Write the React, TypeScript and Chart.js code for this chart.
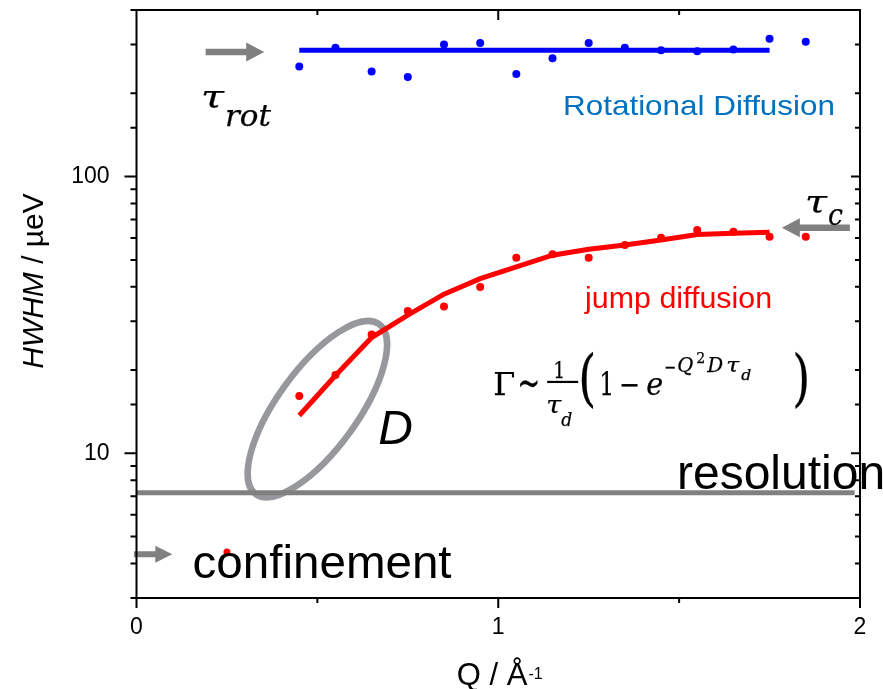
import React, { useEffect, useRef } from 'react';
import { Chart, registerables } from 'chart.js';

Chart.register(...registerables);

// ---------------- data ----------------
const qValues = [0.45, 0.55, 0.65, 0.75, 0.85, 0.95, 1.05, 1.15, 1.25, 1.35, 1.45, 1.55, 1.65, 1.75, 1.85];
const rotationalHWHM = [250, 292, 240, 229, 300, 304, 235, 268, 304, 292, 286, 284, 288, 315, 307];
const jumpHWHM = [16.1, 19.2, 26.9, 32.7, 33.9, 39.9, 50.9, 52.4, 50.9, 56.6, 60.1, 64.1, 63.2, 60.6, 60.6];

const rotFitQ = [0.45, 1.75];
const rotFitHWHM = [286, 286];

const jumpFitQ = [0.45, 0.55, 0.65, 0.75, 0.85, 0.95, 1.05, 1.15, 1.25, 1.35, 1.45, 1.55, 1.65, 1.75];
const jumpFitHWHM = [13.7, 19.1, 26.2, 31.6, 37.6, 42.8, 47.2, 52.0, 54.6, 56.6, 59.0, 61.8, 62.4, 62.9];

const confinementQ = [0.25];
const confinementHWHM = [4.4];

const resolutionQ = [0, 1.985];
const resolutionHWHM = [7.2, 7.2];

const xTickLabels = ['0', '1', '2'];
const yTickLabels = ['10', '100'];

// annotation anchors (data units: Q, HWHM)
const ROT_ARROW = { q0: 0.191, q1: 0.353, v: 282 };
const TAU_ROT = { q: 0.178, v: 177 };
const ROT_LABEL = { q: 1.179, v: 167 };
const TAUC_ARROW = { q0: 1.972, q1: 1.784, v: 65.3 };
const TAU_C = { q: 1.848, v: 74 };
const JUMP_LABEL = { q: 1.24, v: 33.4 };
const FORMULA = { q: 0.986, v: 16.2 };
const D_LABEL = { q: 0.668, v: 10.84 };
const ELLIPSE = { q: 0.5, v: 14.45 };
const RES_LABEL = { q: 1.494, v: 7.45 };
const CONF_LABEL = { q: 0.155, v: 3.55 };
const CONF_ARROW = { q0: -0.007, q1: 0.099, v: 4.32 };

const SANS = '"Liberation Sans", Arial, sans-serif';
const MATH = '"DejaVu Serif", "Liberation Serif", serif';
const GRAY = '#808080';

function pts(xs: number[], ys: number[]) {
  return xs.map((x, i) => ({ x, y: ys[i] }));
}

function drawText(
  ctx: CanvasRenderingContext2D,
  text: string,
  x: number,
  y: number,
  font: string,
  color: string,
  width?: number,
  stroke?: number
) {
  ctx.save();
  ctx.font = font;
  ctx.fillStyle = color;
  ctx.strokeStyle = color;
  ctx.textAlign = 'left';
  ctx.textBaseline = 'alphabetic';
  ctx.translate(x, y);
  if (width) {
    const w = ctx.measureText(text).width;
    ctx.scale(width / w, 1);
  }
  ctx.fillText(text, 0, 0);
  if (stroke) {
    ctx.lineWidth = stroke;
    ctx.strokeText(text, 0, 0);
  }
  ctx.restore();
}

function drawArrow(ctx: CanvasRenderingContext2D, x0: number, x1: number, y: number, shaftW: number, headL: number, headHW: number) {
  const dir = Math.sign(x1 - x0);
  const xb = x1 - dir * headL;
  ctx.save();
  ctx.fillStyle = GRAY;
  ctx.beginPath();
  ctx.moveTo(x0, y - shaftW / 2);
  ctx.lineTo(xb, y - shaftW / 2);
  ctx.lineTo(xb, y - headHW);
  ctx.lineTo(x1, y);
  ctx.lineTo(xb, y + headHW);
  ctx.lineTo(xb, y + shaftW / 2);
  ctx.lineTo(x0, y + shaftW / 2);
  ctx.closePath();
  ctx.fill();
  ctx.restore();
}

const overlayPlugin = {
  id: 'overlay',
  beforeDatasetsDraw(chart: any) {
    const ctx = chart.ctx as CanvasRenderingContext2D;
    const xs = chart.scales.x, ys = chart.scales.y;
    const cx = xs.getPixelForValue(ELLIPSE.q), cy = ys.getPixelForValue(ELLIPSE.v);
    ctx.save();
    ctx.beginPath();
    ctx.ellipse(cx, cy, 105, 40, (-54 * Math.PI) / 180, 0, Math.PI * 2);
    ctx.lineWidth = 6.5;
    ctx.strokeStyle = '#97989c';
    ctx.stroke();
    ctx.restore();
  },
  afterDatasetsDraw(chart: any) {
    const ctx = chart.ctx as CanvasRenderingContext2D;
    const xs = chart.scales.x, ys = chart.scales.y;
    const X = (q: number) => xs.getPixelForValue(q);
    const Y = (v: number) => ys.getPixelForValue(v);

    // arrows
    drawArrow(ctx, X(ROT_ARROW.q0), X(ROT_ARROW.q1), Y(ROT_ARROW.v), 6.5, 18, 9.5);
    drawArrow(ctx, X(TAUC_ARROW.q0), X(TAUC_ARROW.q1), Y(TAUC_ARROW.v), 6.5, 18, 9.5);
    drawArrow(ctx, X(CONF_ARROW.q0), X(CONF_ARROW.q1), Y(CONF_ARROW.v), 6, 17, 8.5);

    const S = 0.25; // slight stroke to mimic the math font weight
    // tau_rot
    {
      const x = X(TAU_ROT.q), y = Y(TAU_ROT.v);
      drawText(ctx, 'τ', x, y, `italic 32px ${MATH}`, '#000', 23, S);
      drawText(ctx, 'rot', x + 24, y + 18.5, `italic 29px ${MATH}`, '#000', 46, S);
    }
    // tau_c
    {
      const x = X(TAU_C.q), y = Y(TAU_C.v);
      drawText(ctx, 'τ', x, y, `italic 32px ${MATH}`, '#000', 22, S);
      drawText(ctx, 'c', x + 23, y + 12, `italic 29px ${MATH}`, '#000', 15, S);
    }
    // labels
    drawText(ctx, 'Rotational Diffusion', X(ROT_LABEL.q), Y(ROT_LABEL.v), `28px ${SANS}`, '#0070C0', 272);
    drawText(ctx, 'jump diffusion', X(JUMP_LABEL.q), Y(JUMP_LABEL.v), `29px ${SANS}`, '#ff0000', 187);
    drawText(ctx, 'D', X(D_LABEL.q), Y(D_LABEL.v), `italic 48px ${SANS}`, '#000');
    drawText(ctx, 'resolution', X(RES_LABEL.q), Y(RES_LABEL.v), `48px ${SANS}`, '#000');
    drawText(ctx, 'confinement', X(CONF_LABEL.q), Y(CONF_LABEL.v), `47px ${SANS}`, '#000', 259);

    // formula
    {
      const x0 = X(FORMULA.q), y0 = Y(FORMULA.v);
      const parts: [string, number, number, string, number?][] = [
        ['Γ', 0, 0, `32px ${MATH}`, 22],
        ['~', 24, 2, `42px ${MATH}`, 23],
        ['1', 60, -17, `22px ${MATH}`, 12],
        ['τ', 53, 18, `italic 24px ${MATH}`, 15],
        ['d', 68, 31, `italic 18px ${MATH}`, 11],
        ['(', 85, 4, `62px ${MATH}`, 18],
        ['1', 106, 0, `31px ${MATH}`, 15],
        ['−', 126, 0, `31px ${MATH}`, 21],
        ['e', 153, 0, `italic 31px ${MATH}`, 17],
        ['−', 171, -21, `20px ${MATH}`, 12],
        ['Q', 184, -23, `italic 20px ${MATH}`, 16],
        ['2', 203, -32, `14px ${MATH}`, 9],
        ['D', 214, -23, `italic 20px ${MATH}`, 16],
        ['τ', 233, -23, `italic 20px ${MATH}`, 13],
        ['d', 248, -15, `italic 15px ${MATH}`, 10],
        [')', 299, 4, `62px ${MATH}`, 18],
      ];
      for (const [t, dx, dy, f, w] of parts) drawText(ctx, t, x0 + dx, y0 + dy, f, '#000', w, S);
      ctx.save();
      ctx.fillStyle = '#000';
      ctx.fillRect(x0 + 54, y0 - 14.5, 31, 2.2);
      ctx.restore();
    }
  },
  afterDraw(chart: any) {
    const ctx = chart.ctx as CanvasRenderingContext2D;
    const a = chart.chartArea;
    const xs = chart.scales.x, ys = chart.scales.y;
    ctx.save();
    ctx.strokeStyle = '#000';
    ctx.lineWidth = 2;
    ctx.strokeRect(a.left, a.top, a.right - a.left, a.bottom - a.top);
    ctx.beginPath();
    // x ticks
    for (const t of xs.ticks) {
      const px = xs.getPixelForValue(t.value);
      const major = Number.isInteger(t.value);
      ctx.moveTo(px, a.bottom);
      ctx.lineTo(px, a.bottom + (major ? 10 : 5));
      if (t.value > 0 && t.value < 2) {
        ctx.moveTo(px, a.top);
        ctx.lineTo(px, a.top + (major ? 10 : 5));
      }
    }
    // y ticks
    for (const t of ys.ticks) {
      const py = ys.getPixelForValue(t.value);
      const lg = Math.log10(t.value);
      const major = Math.abs(lg - Math.round(lg)) < 1e-9;
      ctx.moveTo(a.left, py);
      ctx.lineTo(a.left - (major ? 12 : 6), py);
      ctx.moveTo(a.right, py);
      ctx.lineTo(a.right - (major ? 9 : 5), py);
    }
    ctx.stroke();
    ctx.restore();

    // axis titles
    ctx.save();
    ctx.translate(43, 281);
    ctx.rotate(-Math.PI / 2);
    ctx.fillStyle = '#000';
    ctx.textBaseline = 'alphabetic';
    ctx.font = `italic 30px ${SANS}`;
    const w1 = ctx.measureText('HWHM').width;
    ctx.font = `30px ${SANS}`;
    const w2 = ctx.measureText(' / µeV').width;
    const sx = -(w1 + w2) / 2;
    ctx.font = `italic 30px ${SANS}`;
    ctx.fillText('HWHM', sx, 0);
    ctx.font = `30px ${SANS}`;
    ctx.fillText(' / µeV', sx + w1, 0);
    ctx.restore();

    ctx.save();
    ctx.fillStyle = '#000';
    ctx.textBaseline = 'alphabetic';
    ctx.font = `31px ${SANS}`;
    const m1 = ctx.measureText('Q / Å').width;
    ctx.font = `16px ${SANS}`;
    const m2 = ctx.measureText('-1').width;
    const cxm = (a.left + a.right) / 2 + 1;
    const start = cxm - (m1 + m2) / 2;
    ctx.font = `31px ${SANS}`;
    ctx.fillText('Q / Å', start, 685);
    ctx.font = `16px ${SANS}`;
    ctx.fillText('-1', start + m1 + 1, 679);
    ctx.restore();
  },
};

export default function App() {
  const ref = useRef<HTMLCanvasElement | null>(null);
  useEffect(() => {
    const canvas = ref.current;
    if (!canvas) return;
    const chart = new Chart(canvas, {
      type: 'scatter',
      data: {
        datasets: [
          {
            label: 'Rotational fit',
            data: pts(rotFitQ, rotFitHWHM),
            showLine: true,
            borderColor: '#0000ff',
            borderWidth: 5,
            pointRadius: 0,
            order: 1,
          },
          {
            label: 'Jump fit',
            data: pts(jumpFitQ, jumpFitHWHM),
            showLine: true,
            borderColor: '#ff0000',
            borderWidth: 5,
            pointRadius: 0,
            order: 1,
          },
          {
            label: 'Resolution',
            data: pts(resolutionQ, resolutionHWHM),
            showLine: true,
            borderColor: '#808080',
            borderWidth: 5,
            pointRadius: 0,
            order: 1,
          },
          {
            label: 'Rotational Diffusion',
            data: pts(qValues, rotationalHWHM),
            backgroundColor: '#0000ff',
            borderWidth: 0,
            pointRadius: 4,
            order: 2,
          },
          {
            label: 'jump diffusion',
            data: pts(qValues, jumpHWHM),
            backgroundColor: '#ff0000',
            borderWidth: 0,
            pointRadius: 4,
            order: 2,
          },
          {
            label: 'confinement',
            data: pts(confinementQ, confinementHWHM),
            backgroundColor: '#ff0000',
            borderWidth: 0,
            pointRadius: 3.5,
            order: 2,
          },
        ],
      },
      options: {
        animation: false,
        responsive: false,
        devicePixelRatio: 1,
        layout: { padding: { top: 10, right: 23, left: 0, bottom: 0 } },
        plugins: { legend: { display: false }, tooltip: { enabled: false } },
        scales: {
          x: {
            type: 'linear',
            min: 0,
            max: 2,
            position: 'bottom',
            grid: { display: false },
            border: { display: false },
            ticks: {
              stepSize: 0.5,
              autoSkip: false,
              maxRotation: 0,
              padding: 8,
              color: '#000',
              font: { family: SANS, size: 23 },
              callback: (v: any) => (xTickLabels.includes(String(v)) ? String(v) : ''),
            },
            afterFit: (s: any) => {
              s.height = 91;
              s.paddingLeft = 0;
              s.paddingRight = 0;
            },
          },
          y: {
            type: 'logarithmic',
            min: 3,
            max: 400,
            grid: { display: false },
            border: { display: false },
            ticks: {
              autoSkip: false,
              padding: 19,
              color: '#000',
              font: { family: SANS, size: 23 },
              callback: (v: any) => (yTickLabels.includes(String(Math.round(Number(v) * 1000) / 1000)) ? String(Math.round(Number(v))) : ''),
            },
            afterFit: (s: any) => {
              s.width = 136.5;
              s.paddingTop = 0;
              s.paddingBottom = 0;
            },
          },
        },
      },
      plugins: [overlayPlugin],
    } as any);
    return () => chart.destroy();
  }, []);
  return (
    <div style={{ position: 'fixed', left: 0, top: 0, width: 883, height: 689, background: '#fff' }}>
      <canvas ref={ref} width={883} height={689} style={{ width: 883, height: 689, display: 'block' }} />
    </div>
  );
}
